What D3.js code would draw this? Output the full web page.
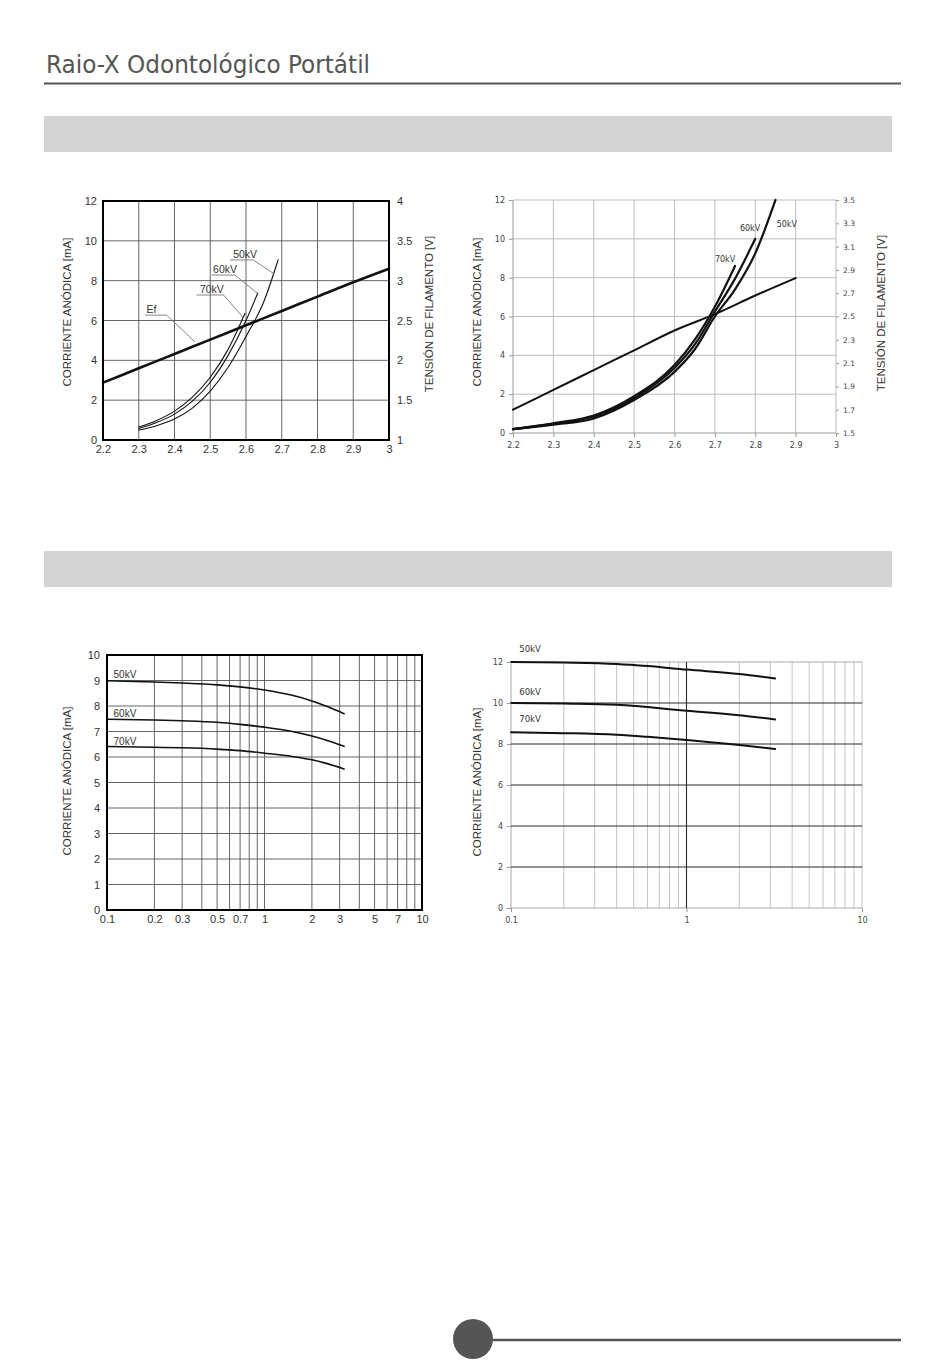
<!DOCTYPE html>
<html>
<head>
<meta charset="utf-8">
<script src="https://cdn.jsdelivr.net/npm/d3@7"></script>
<style>
  body { margin: 0; background: #fff; }
  svg { display: block; }
</style>
</head>
<body>
<svg id="page" width="950" height="1364"></svg>
<script>
// ---- top left: anode current vs filament voltage (first datasheet) ----
var tlTicksX = [2.2, 2.3, 2.4, 2.5, 2.6, 2.7, 2.8, 2.9, 3];
var tlTicksY = [0, 2, 4, 6, 8, 10, 12];
var tlTicksR = [1, 1.5, 2, 2.5, 3, 3.5, 4];
var tlX70 = [2.30, 2.35, 2.40, 2.45, 2.50, 2.55, 2.597];
var tlI70 = [0.65, 0.98, 1.45, 2.15, 3.15, 4.55, 6.35];
var tlX60 = [2.30, 2.35, 2.40, 2.45, 2.50, 2.55, 2.60, 2.633];
var tlI60 = [0.58, 0.88, 1.30, 1.95, 2.90, 4.25, 6.00, 7.38];
var tlX50 = [2.30, 2.35, 2.40, 2.45, 2.50, 2.55, 2.60, 2.65, 2.69];
var tlI50 = [0.50, 0.72, 1.05, 1.60, 2.45, 3.65, 5.20, 6.95, 9.05];
var tlEfX = [2.2, 2.3, 2.4, 2.5, 2.6, 2.7, 2.8, 2.9, 3.0];
var tlEfV = [1.72, 1.90, 2.08, 2.26, 2.44, 2.62, 2.80, 2.98, 3.15];
// callouts: label, text anchor [x, mA], leader points [x, mA]
var tlNotes = [
  { label: "50kV", at: [2.564, 9.14], leader: [[2.555, 9.04], [2.62, 9.04], [2.678, 8.35]] },
  { label: "60kV", at: [2.508, 8.37], leader: [[2.504, 8.28], [2.569, 8.28], [2.632, 7.36]] },
  { label: "70kV", at: [2.471, 7.39], leader: [[2.462, 7.28], [2.537, 7.28], [2.592, 6.15]] },
  { label: "Ef",   at: [2.322, 6.39], leader: [[2.317, 6.27], [2.378, 6.27], [2.457, 4.93]] }
];

// ---- top right: anode current vs filament voltage (second datasheet) ----
var trTicksX = [2.2, 2.3, 2.4, 2.5, 2.6, 2.7, 2.8, 2.9, 3];
var trTicksY = [0, 2, 4, 6, 8, 10, 12];
var trTicksR = [1.5, 1.7, 1.9, 2.1, 2.3, 2.5, 2.7, 2.9, 3.1, 3.3, 3.5];
var trX = [2.2, 2.3, 2.4, 2.5, 2.6, 2.65, 2.7, 2.75, 2.8, 2.85];
var trI70 = [0.2, 0.50, 0.90, 1.90, 3.50, 4.80, 6.50, 8.60];
var trI60 = [0.2, 0.47, 0.85, 1.80, 3.35, 4.55, 6.25, 7.95, 10.0];
var trI50 = [0.2, 0.43, 0.75, 1.70, 3.15, 4.30, 6.00, 7.40, 9.25, 12.0];
var trEfX = [2.2, 2.3, 2.4, 2.5, 2.6, 2.7, 2.8, 2.9];
var trEfV = [1.70, 1.87, 2.04, 2.21, 2.38, 2.52, 2.68, 2.83];
var trNotes = [
  { label: "70kV", at: [2.700, 8.83] },
  { label: "60kV", at: [2.762, 10.4] },
  { label: "50kV", at: [2.853, 10.6] }
];

// ---- bottom left: anode current vs time (log) ----
var logGrid = [0.1, 0.2, 0.3, 0.4, 0.5, 0.6, 0.7, 0.8, 0.9, 1, 2, 3, 4, 5, 6, 7, 8, 9, 10];
var blTicksX = [0.1, 0.2, 0.3, 0.5, 0.7, 1, 2, 3, 5, 7, 10];
var blTicksY = [0, 1, 2, 3, 4, 5, 6, 7, 8, 9, 10];
var blT = [0.1, 0.2, 0.3, 0.5, 0.7, 1, 1.5, 2, 2.5, 3.2];
var blI50 = [8.99, 8.94, 8.90, 8.83, 8.75, 8.63, 8.42, 8.20, 7.98, 7.70];
var blI60 = [7.48, 7.45, 7.42, 7.36, 7.28, 7.17, 7.00, 6.82, 6.65, 6.42];
var blI70 = [6.41, 6.38, 6.36, 6.31, 6.25, 6.15, 6.02, 5.89, 5.74, 5.53];
var blNotes = [
  { label: "50kV", at: [0.11, 9.10] },
  { label: "60kV", at: [0.11, 7.56] },
  { label: "70kV", at: [0.11, 6.48] }
];

// ---- bottom right: anode current vs time (log, second datasheet) ----
var brTicksX = [0.1, 1, 10];
var brTicksY = [0, 2, 4, 6, 8, 10, 12];
var brT = [0.1, 0.2, 0.4, 0.6, 1, 2, 3.2];
var brI50 = [12.0, 11.97, 11.90, 11.80, 11.63, 11.42, 11.20];
var brI60 = [10.0, 9.97, 9.92, 9.80, 9.62, 9.40, 9.20];
var brI70 = [8.57, 8.53, 8.45, 8.35, 8.20, 7.95, 7.76];
var brNotes = [
  { label: "50kV", at: [0.1115, 12.5] },
  { label: "60kV", at: [0.1115, 10.4] },
  { label: "70kV", at: [0.1115, 9.05] }
];

var ARIAL = "'Liberation Sans', Arial, sans-serif";
var DEJA = "'DejaVu Sans', sans-serif";

var svg = d3.select("#page");

// ---------- page furniture ----------
svg.append("text")
  .attr("x", 46).attr("y", 73)
  .attr("font-family", "'DejaVu Sans Condensed', 'DejaVu Sans', sans-serif")
  .attr("font-size", 24)
  .attr("fill", "#555")
  .attr("textLength", 324).attr("lengthAdjust", "spacingAndGlyphs")
  .text("Raio-X Odontológico Portátil");
svg.append("line").attr("x1", 44).attr("x2", 901).attr("y1", 83.5).attr("y2", 83.5)
  .attr("stroke", "#555").attr("stroke-width", 2);
svg.append("rect").attr("x", 44).attr("y", 116).attr("width", 848).attr("height", 36).attr("fill", "#d4d4d4");
svg.append("rect").attr("x", 44).attr("y", 551).attr("width", 848).attr("height", 36).attr("fill", "#d4d4d4");
svg.append("line").attr("x1", 480).attr("x2", 901).attr("y1", 1340).attr("y2", 1340)
  .attr("stroke", "#555").attr("stroke-width", 2.5);
svg.append("circle").attr("cx", 473).attr("cy", 1339).attr("r", 20).attr("fill", "#555");

// ---------- helpers ----------
function vLines(g, x, y, vals, color, sw) {
  g.append("g").selectAll("line").data(vals).join("line")
    .attr("x1", d => x(d)).attr("x2", d => x(d))
    .attr("y1", y.range()[0]).attr("y2", y.range()[1])
    .attr("stroke", color).attr("stroke-width", sw);
}
function hLines(g, x, y, vals, color, sw) {
  g.append("g").selectAll("line").data(vals).join("line")
    .attr("y1", d => y(d)).attr("y2", d => y(d))
    .attr("x1", x.range()[0]).attr("x2", x.range()[1])
    .attr("stroke", color).attr("stroke-width", sw);
}
function curve(g, x, y, xs, ys, sw) {
  var line = d3.line().x(d => x(d[0])).y(d => y(d[1])).curve(d3.curveMonotoneX);
  g.append("path").datum(d3.zip(xs, ys))
    .attr("d", line).attr("fill", "none")
    .attr("stroke", "#111").attr("stroke-width", sw)
    .attr("stroke-linejoin", "round").attr("stroke-linecap", "round");
}
function styleAxis(sel, font, size, color, tickColor) {
  sel.select(".domain").remove();
  sel.selectAll("text").attr("font-family", font).attr("font-size", size).attr("fill", color);
  sel.selectAll(".tick line").attr("stroke", tickColor || "none");
}
function yTitle(g, text, cx, cy) {
  g.append("text")
    .attr("transform", "translate(" + cx + "," + cy + ") rotate(-90)")
    .attr("text-anchor", "middle").attr("dominant-baseline", "central")
    .attr("font-family", ARIAL).attr("font-size", 11.5).attr("fill", "#333")
    .text(text);
}
function notes(g, x, y, list, font, size) {
  g.append("g").selectAll("text").data(list).join("text")
    .attr("x", d => x(d.at[0])).attr("y", d => y(d.at[1]))
    .attr("font-family", font).attr("font-size", size).attr("fill", "#333")
    .text(d => d.label);
}

// ---------- top left ----------
(function () {
  var g = svg.append("g");
  var x = d3.scaleLinear().domain([2.2, 3]).range([103, 389]);
  var y = d3.scaleLinear().domain([0, 12]).range([440, 201]);
  var yR = d3.scaleLinear().domain([1, 4]).range([440, 201]);

  vLines(g, x, y, tlTicksX.slice(1, -1), "#555", 0.9);
  hLines(g, x, y, tlTicksY.slice(1, -1), "#555", 0.9);

  curve(g, x, y, tlX70, tlI70, 1.1);
  curve(g, x, y, tlX60, tlI60, 1.1);
  curve(g, x, y, tlX50, tlI50, 1.1);
  curve(g, x, yR, tlEfX, tlEfV, 2.6);

  var leader = d3.line().x(d => x(d[0])).y(d => y(d[1]));
  g.append("g").selectAll("path").data(tlNotes).join("path")
    .attr("d", d => leader(d.leader)).attr("fill", "none")
    .attr("stroke", "#777").attr("stroke-width", 0.9);
  notes(g, x, y, tlNotes, ARIAL, 10.5);

  g.append("rect").attr("x", 103).attr("y", 201).attr("width", 286).attr("height", 239)
    .attr("fill", "none").attr("stroke", "#000").attr("stroke-width", 2);

  g.append("g").attr("transform", "translate(0,440)")
    .call(d3.axisBottom(x).tickValues(tlTicksX).tickFormat(d3.format("~g")).tickSize(0).tickPadding(5))
    .call(s => styleAxis(s, ARIAL, 11, "#333"));
  g.append("g").attr("transform", "translate(103,0)")
    .call(d3.axisLeft(y).tickValues(tlTicksY).tickSize(0).tickPadding(6))
    .call(s => styleAxis(s, ARIAL, 11, "#333"));
  g.append("g").attr("transform", "translate(389,0)")
    .call(d3.axisRight(yR).tickValues(tlTicksR).tickFormat(d3.format("~g")).tickSize(0).tickPadding(8))
    .call(s => styleAxis(s, ARIAL, 11, "#333"));

  yTitle(g, "CORRIENTE ANÓDICA [mA]", 67, 312);
  yTitle(g, "TENSIÓN DE FILAMENTO [V]", 429, 314);
})();

// ---------- top right ----------
(function () {
  var g = svg.append("g");
  var x = d3.scaleLinear().domain([2.2, 3]).range([513, 836]);
  var y = d3.scaleLinear().domain([0, 12]).range([433, 200]);
  var yR = d3.scaleLinear().domain([1.5, 3.5]).range([433, 200]);

  vLines(g, x, y, trTicksX.slice(1), "#bdbdbd", 1);
  hLines(g, x, y, trTicksY.slice(1), "#bdbdbd", 1);
  vLines(g, x, y, [2.2], "#999", 1);
  hLines(g, x, y, [0], "#999", 1);

  curve(g, x, yR, trEfX, trEfV, 2);
  curve(g, x, y, trX.slice(0, trI70.length), trI70, 2.2);
  curve(g, x, y, trX.slice(0, trI60.length), trI60, 2.2);
  curve(g, x, y, trX.slice(0, trI50.length), trI50, 2.2);
  notes(g, x, y, trNotes, DEJA, 8);

  g.append("g").attr("transform", "translate(0,433)")
    .call(d3.axisBottom(x).tickValues(trTicksX).tickFormat(d3.format("~g")).tickSize(4).tickPadding(5))
    .call(s => styleAxis(s, DEJA, 8, "#444", "#999"));
  g.append("g").attr("transform", "translate(513,0)")
    .call(d3.axisLeft(y).tickValues(trTicksY).tickSize(4).tickPadding(4))
    .call(s => styleAxis(s, DEJA, 8, "#444", "#999"));
  g.append("g").attr("transform", "translate(836,0)")
    .call(d3.axisRight(yR).tickValues(trTicksR).tickFormat(d3.format(".1f")).tickSize(3).tickPadding(4))
    .call(s => styleAxis(s, DEJA, 7.5, "#444", "#999"));

  yTitle(g, "CORRIENTE ANÓDICA [mA]", 477, 312);
  yTitle(g, "TENSIÓN DE FILAMENTO [V]", 881, 313);
})();

// ---------- bottom left ----------
(function () {
  var g = svg.append("g");
  var x = d3.scaleLog().domain([0.1, 10]).range([107, 422]);
  var y = d3.scaleLinear().domain([0, 10]).range([910, 655]);

  vLines(g, x, y, logGrid.slice(1, -1), "#555", 0.9);
  hLines(g, x, y, blTicksY.slice(1, -1), "#555", 0.9);

  curve(g, x, y, blT, blI50, 1.6);
  curve(g, x, y, blT, blI60, 1.6);
  curve(g, x, y, blT, blI70, 1.6);
  notes(g, x, y, blNotes, ARIAL, 10);

  g.append("rect").attr("x", 107).attr("y", 655).attr("width", 315).attr("height", 255)
    .attr("fill", "none").attr("stroke", "#000").attr("stroke-width", 2);

  g.append("g").attr("transform", "translate(0,910)")
    .call(d3.axisBottom(x).tickValues(blTicksX).tickFormat(d3.format("~g")).tickSize(0).tickPadding(5))
    .call(s => styleAxis(s, ARIAL, 11, "#333"));
  g.append("g").attr("transform", "translate(107,0)")
    .call(d3.axisLeft(y).tickValues(blTicksY).tickSize(0).tickPadding(7))
    .call(s => styleAxis(s, ARIAL, 11, "#333"));

  yTitle(g, "CORRIENTE ANÓDICA [mA]", 67, 781);
})();

// ---------- bottom right ----------
(function () {
  var g = svg.append("g");
  var x = d3.scaleLog().domain([0.1, 10]).range([511, 862]);
  var y = d3.scaleLinear().domain([0, 12]).range([908, 662]);

  vLines(g, x, y, logGrid.filter(d => d !== 1 && d !== 0.1), "#c4c4c4", 1);
  hLines(g, x, y, [0, 12], "#a8a8a8", 1);
  vLines(g, x, y, [0.1], "#a8a8a8", 1);
  hLines(g, x, y, brTicksY.slice(1, -1), "#2a2a2a", 1.1);
  vLines(g, x, y, [1], "#2a2a2a", 1.1);

  curve(g, x, y, brT, brI50, 2);
  curve(g, x, y, brT, brI60, 2);
  curve(g, x, y, brT, brI70, 2);
  notes(g, x, y, brNotes, DEJA, 8.5);

  g.append("g").attr("transform", "translate(0,908)")
    .call(d3.axisBottom(x).tickValues(brTicksX).tickFormat(d3.format("~g")).tickSize(4).tickPadding(5))
    .call(s => styleAxis(s, DEJA, 8, "#444", "#999"));
  g.append("g").attr("transform", "translate(511,0)")
    .call(d3.axisLeft(y).tickValues(brTicksY).tickSize(4).tickPadding(4))
    .call(s => styleAxis(s, DEJA, 8, "#444", "#999"));

  yTitle(g, "CORRIENTE ANÓDICA [mA]", 477, 782);
})();
</script>
</body>
</html>
